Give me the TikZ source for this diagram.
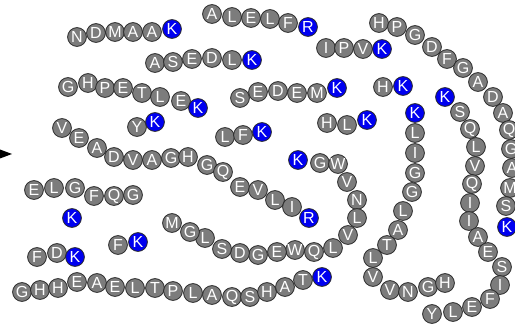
\documentclass[tikz,border=0pt]{standalone}
\usepackage{fontspec}
\setmainfont{Liberation Sans}
\definecolor{beadgray}{RGB}{124,124,124}
\definecolor{beadblue}{RGB}{0,0,240}
\definecolor{beadline}{RGB}{40,40,40}
\tikzset{
  graybead/.style={circle,draw=beadline,line width=0.8pt,fill=beadgray,minimum size=18.8pt,inner sep=0pt,text=white,font=\fontsize{16}{16}\selectfont},
  bluebead/.style={graybead,fill=beadblue}
}
\begin{document}
\begin{tikzpicture}[x=1pt,y=-1pt]
\useasboundingbox (0,0) rectangle (515,326);
\foreach \px/\py/\t/\s [count=\i] in {
 77/37/N/graybead, 96/33/D/graybead, 115/32/M/graybead, 133/32/A/graybead, 152/32/A/graybead, 172/29/K/bluebead,
 212/14/A/graybead, 232/17/L/graybead, 251/18/E/graybead, 270/19/L/graybead, 288/23/F/graybead, 308/27/R/bluebead,
 155/63/A/graybead, 173/62/S/graybead, 192/59/E/graybead, 212/58/D/graybead, 232/60/L/graybead, 252/60/K/bluebead,
 326/48/I/graybead, 344/48/P/graybead, 363/49/V/graybead, 382/49/K/bluebead,
 379/23/H/graybead, 397/27/P/graybead, 415/35/G/graybead, 432/47/D/graybead, 447/59/F/graybead, 463/68/G/graybead, 478/82/A/graybead, 493/97/D/graybead, 503/113/A/graybead, 509/130/Q/graybead, 511/149/G/graybead, 512/168/A/graybead, 510/188/M/graybead, 506/206/S/graybead, 507/227/K/bluebead,
 68/87/G/graybead, 88/83/H/graybead, 105/88/P/graybead, 123/88/E/graybead, 142/93/T/graybead, 160/97/L/graybead, 181/101/E/graybead, 198/108/K/bluebead,
 240/98/S/graybead, 258/92/E/graybead, 278/91/D/graybead, 297/93/E/graybead, 317/93/M/graybead, 337/88/K/bluebead,
 383/87/H/graybead, 403/86/K/bluebead,
 137/127/Y/graybead, 155/122/K/bluebead,
 225/137/L/graybead, 243/135/F/graybead, 262/132/K/bluebead,
 327/123/H/graybead, 347/125/L/graybead, 367/120/K/bluebead,
 445/97/K/bluebead, 460/112/S/graybead, 470/129/Q/graybead, 476/147/L/graybead, 475/166/V/graybead, 472/184/Q/graybead, 470/203/I/graybead, 469/221/I/graybead, 478/237/A/graybead, 488/252/E/graybead, 502/267/S/graybead, 500/285/I/graybead, 490/299/F/graybead, 472/307/E/graybead, 453/312/L/graybead, 432/314/Y/graybead,
 415/113/K/bluebead, 415/133/L/graybead, 415/153/I/graybead, 415/173/G/graybead, 412/192/G/graybead, 403/211/L/graybead, 398/230/A/graybead, 387/245/T/graybead, 373/258/L/graybead, 373/277/V/graybead, 390/290/V/graybead, 408/292/N/graybead, 428/287/G/graybead, 445/283/H/graybead,
 62/128/V/graybead, 79/138/E/graybead, 97/148/A/graybead, 114/157/D/graybead, 133/160/V/graybead, 152/160/A/graybead, 171/158/G/graybead, 188/157/H/graybead, 207/165/G/graybead, 223/172/Q/graybead, 240/187/E/graybead, 258/190/V/graybead, 275/200/L/graybead, 292/207/I/graybead, 309/218/R/bluebead,
 34/190/E/graybead, 54/188/L/graybead, 75/188/G/graybead, 94/196/F/graybead, 114/196/Q/graybead, 133/195/G/graybead,
 72/218/K/bluebead,
 298/160/K/bluebead, 320/163/G/graybead, 338/164/W/graybead, 347/182/V/graybead, 357/200/N/graybead, 357/218/L/graybead, 348/235/V/graybead, 333/248/L/graybead, 314/252/Q/graybead, 295/250/W/graybead, 277/252/E/graybead, 258/255/G/graybead, 240/253/D/graybead, 222/249/S/graybead, 205/238/L/graybead, 190/232/G/graybead, 172/223/M/graybead,
 37/257/F/graybead, 57/253/D/graybead, 75/257/K/bluebead,
 118/245/F/graybead, 138/242/K/bluebead,
 22/292/G/graybead, 40/290/H/graybead, 58/288/H/graybead, 77/282/E/graybead, 97/283/A/graybead, 115/287/E/graybead, 135/288/L/graybead, 155/288/T/graybead, 173/291/P/graybead, 193/293/L/graybead, 212/295/A/graybead, 232/297/Q/graybead, 250/297/S/graybead, 267/292/H/graybead, 285/287/A/graybead, 303/280/T/graybead, 322/277/K/bluebead}
 \node[\s] (c\i) at (\px,\py) {\t};
\coordinate (arrowbase) at (0,154);
\coordinate (arrowtip) at (12,154);
\fill[black] ([yshift=-4.5pt]arrowbase) -- (arrowtip) -- ([yshift=4.5pt]arrowbase) -- cycle;
\end{tikzpicture}
\end{document}
